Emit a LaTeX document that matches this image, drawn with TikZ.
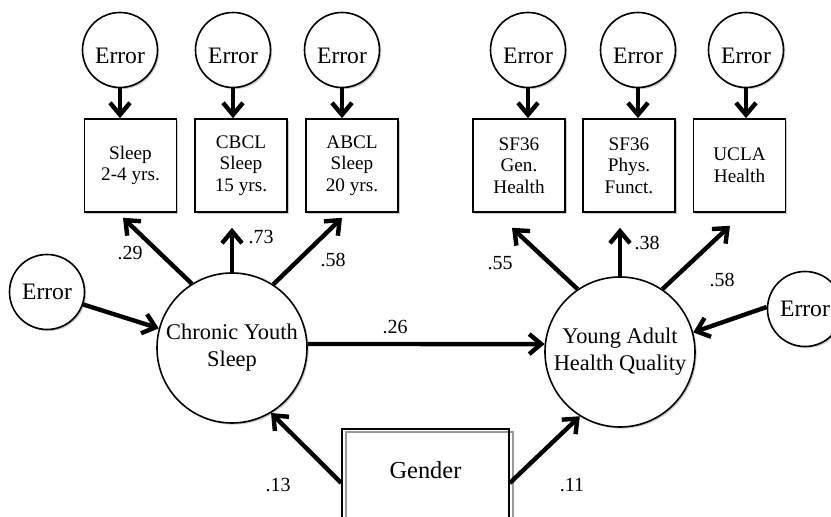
\documentclass[tikz,border=0pt]{standalone}
\usepackage{fontspec}
\setmainfont{Liberation Serif}
\usetikzlibrary{arrows.meta}
\usetikzlibrary{calc}
\usetikzlibrary{shadows}

\tikzset{
  softshadow/.style={drop shadow={shadow xshift=0.8pt,shadow yshift=-0.8pt,fill=black!35,opacity=0.6}},
  errnode/.style={circle,draw,line width=0.8pt,fill=white,minimum size=37.5pt,inner sep=0pt,
    font=\fontsize{11.8}{14}\selectfont,softshadow},
  toperr/.style={errnode,text height=14pt,text depth=0pt},
  latent/.style={circle,draw,line width=0.8pt,fill=white,minimum size=75pt,inner sep=0pt,
    align=center,font=\fontsize{11.2}{13.5}\selectfont,softshadow},
  obs/.style={rectangle,draw,line width=0.8pt,fill=white,minimum width=46pt,minimum height=46.5pt,
    inner sep=0pt,align=center,font=\fontsize{9.6}{10.8}\selectfont,softshadow},
  gendbox/.style={rectangle,draw,line width=0.8pt,minimum width=83.5pt,inner sep=0pt,
    text height=25pt,text depth=40pt,font=\fontsize{12.2}{14}\selectfont,
    general shadow={draw=black!40,line width=0.8pt,shadow xshift=2pt,shadow yshift=-1.5pt}},
  path/.style={line width=2.2pt,-{Straight Barb[length=6pt,width=10pt]}},
  coef/.style={inner sep=0pt,font=\fontsize{10}{12}\selectfont}
}

\begin{document}
\begin{tikzpicture}[x=0.5pt,y=-0.5pt]
  \useasboundingbox (0,0) rectangle (831,517);
  \clip (0,0) rectangle (831,517);

  % latent variables
  \node[latent] (chr) at (232,348) {Chronic Youth\\Sleep};
  \node[latent] (yah) at (620,352) {Young Adult\\Health Quality};

  % indicators
  \node[obs] (sl) at (130.5,165.5) {Sleep\\2-4 yrs.};
  \node[obs] (cb) at (241,165.5) {CBCL\\Sleep\\15 yrs.};
  \node[obs] (ab) at (352,165.5) {ABCL\\Sleep\\20 yrs.};
  \node[obs] (gh) at (519,165.5) {SF36\\Gen.\\Health};
  \node[obs] (pf) at (629,165.5) {SF36\\Phys.\\Funct.};
  \node[obs] (uc) at (739.5,165.5) {UCLA\\Health};

  % error terms
  \node[toperr] (e1) at (120,50) {Error};
  \node[toperr] (e2) at (233,50) {Error};
  \node[toperr] (e3) at (342,50) {Error};
  \node[toperr] (e4) at (528,50) {Error};
  \node[toperr] (e5) at (638,50) {Error};
  \node[toperr] (e6) at (746,50) {Error};
  \node[errnode] (el) at (47,292) {Error};
  \node[errnode] (er) at (805,309) {Error};

  \node[gendbox,anchor=north] (gen) at (425.5,428) {Gender};

  \draw[path] (e1) -- (e1 |- sl.north);
  \draw[path] (e2) -- (e2 |- cb.north);
  \draw[path] (e3) -- (e3 |- ab.north);
  \draw[path] (e4) -- (e4 |- gh.north);
  \draw[path] (e5) -- (e5 |- pf.north);
  \draw[path] (e6) -- (e6 |- uc.north);

  \draw[path] (chr.122) -- ($(sl.south)+(-7.5,5)$);
  \draw[path] (chr.north) -- ($(chr.north |- cb.south)+(0,15)$);
  \draw[path] (chr.57) -- ($(ab.south)+(-10,5)$);
  \draw[path] (yah.124) -- ($(gh.south)+(-7,15)$);
  \draw[path] (yah.north) -- ($(yah.north |- pf.south)+(0,15)$);
  \draw[path] (yah.56) -- ($(uc.south)+(-9.5,13)$);

  \draw[path] (chr.3) -- (yah.174);
  \draw[path] (el.-19) -- (chr.165);
  \draw[path] (er.177) -- (yah.15);
  \draw[path] ($(gen.north west)+(0,55)$) -- (chr.-59);
  \draw[path] ($(gen.north east)+(0,55)$) -- (yah.238);

  % path coefficients
  \node[coef] (c29) at (130,253) {.29};
  \node[coef] (c73) at (261,237) {.73};
  \node[coef] (c58a) at (333,260) {.58};
  \node[coef] (c26) at (395,327) {.26};
  \node[coef] (c55) at (500,263) {.55};
  \node[coef] (c38) at (647,243) {.38};
  \node[coef] (c58b) at (722,280) {.58};
  \node[coef] (c13) at (278,485) {.13};
  \node[coef] (c11) at (572,485) {.11};
\end{tikzpicture}
\end{document}
